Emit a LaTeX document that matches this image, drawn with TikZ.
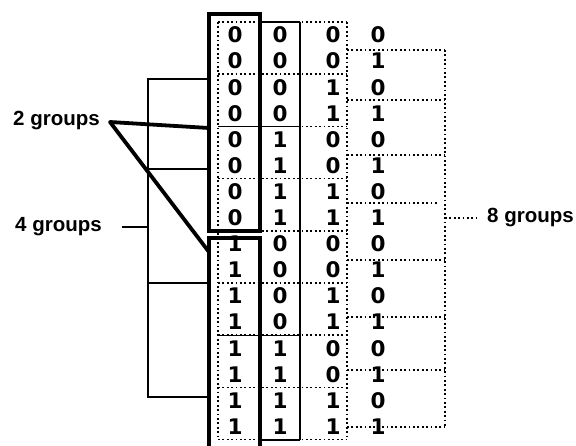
\documentclass[tikz,border=0pt]{standalone}
\usepackage{fontspec}
\setmainfont{Liberation Sans}
\newfontfamily\digitfont{DejaVu Sans}
\begin{document}
\begin{tikzpicture}[x=1pt,y=-1pt,
  dig/.style={font=\digitfont\bfseries\fontsize{21.5}{21.5}\selectfont, inner sep=0pt},
  lab/.style={font=\bfseries\fontsize{20.5}{20.5}\selectfont, inner sep=0pt, anchor=west},
  dots/.style={line width=1.5pt, dash pattern=on 1.8pt off 2.6pt},
  thinline/.style={line width=1.3pt},
  thickbox/.style={line width=3.6pt},
  pointer/.style={line width=3.8pt, line cap=round, line join=round}]
\useasboundingbox (0,0) rectangle (576,445);
% digits
\foreach \r in {0,...,15} {
  \pgfmathsetmacro\yy{35+26.1*\r}
  \pgfmathtruncatemacro\ba{int(\r/8)}
  \pgfmathtruncatemacro\bb{mod(int(\r/4),2)}
  \pgfmathtruncatemacro\bc{mod(int(\r/2),2)}
  \pgfmathtruncatemacro\bd{mod(\r,2)}
  \node[dig] (d\r-a) at (235,\yy) {\ba};
  \node[dig] (d\r-b) at (280,\yy) {\bb};
  \node[dig] (d\r-c) at (333,\yy) {\bc};
  \node[dig] (d\r-d) at (378,\yy) {\bd};
}
% dotted pair boxes (cols 1-3)
\foreach \k in {0,2,...,16} {
  \pgfmathsetmacro\yb{22+26.1*\k}
  \draw[dots] (218,\yb) -- (347,\yb);
}
\draw[dots] (218,22) -- (218,439.6);
\draw[dots] (347,22) -- (347,439.6);
% thin solid 4-group lines (cols 1-2)
\draw[thinline] (300,22) -- (300,440);
\draw[thinline] (260,22) -- (300,22);
\draw[thinline] (260,440) -- (300,440);
\draw[thinline] (218,126.4) -- (300,126.4);
\draw[thinline] (218,335.2) -- (300,335.2);
% thick 2-group boxes (col 1)
\draw[thickbox] (209,14) rectangle (260,231);
\draw[thickbox] (209,450) -- (209,238) -- (260,238) -- (260,450);
% 8 groups bracket (dotted)
\foreach \yy/\n in {50/1,100/2,155/3,260/5,317/6,370/7,427/8} {
  \coordinate (e\n l) at (347,\yy);
  \coordinate (e\n r) at (445,\yy);
  \draw[dots] (e\n l) -- (e\n r);
}
\coordinate (e4l) at (347,203);
\coordinate (e4r) at (438,203);
\draw[dots] (e4l) -- (e4r);
\draw[dots] (e1r) -- (e8r);
\node[lab] (g8) at (487,218) {8 groups};
\coordinate (e8m) at (445,218);
\draw[dots] (e8m) -- (477,218);
% 4 groups bracket
\foreach \yy/\n in {79/1,169/2,283/3,397/4} {
  \coordinate (f\n l) at (148,\yy);
  \coordinate (f\n r) at (209,\yy);
}
\draw[thinline] (f1r) -- (f1l) -- (f4l) -- (f4r);
\draw[thinline] (f2l) -- (f2r);
\draw[thinline] (f3l) -- (f3r);
\node[lab] (g4) at (15,227) {4 groups};
\coordinate (f0) at (148,227);
\draw[thinline] (122,227) -- (f0);
% 2 groups pointer
\node[lab] (g2) at (13,121) {2 groups};
\coordinate (p0) at (110,122);
\coordinate (p1) at (209,128);
\coordinate (p2) at (209,252);
\draw[pointer] (p1) -- (p0) -- (p2);
\end{tikzpicture}
\end{document}
